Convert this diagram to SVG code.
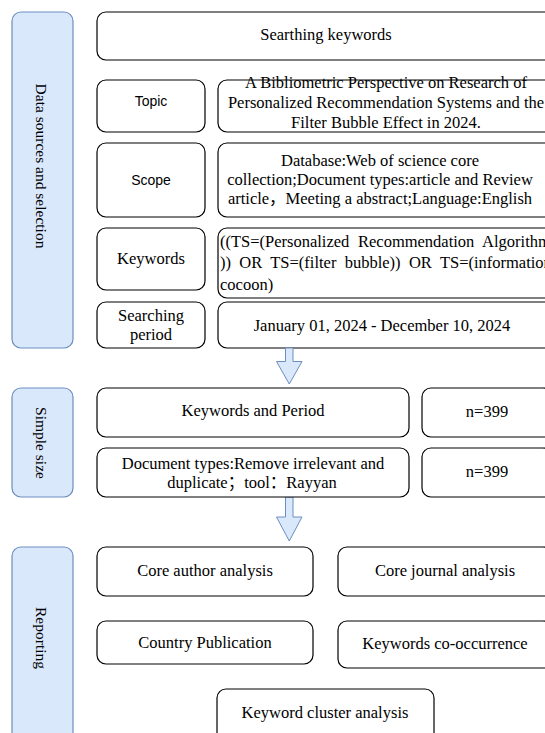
<svg xmlns="http://www.w3.org/2000/svg" width="545" height="733" viewBox="0 0 545 733">
<style>
.bar{fill:#dae8fc;stroke:#6c8ebf;stroke-width:1.2}
.box{fill:#fff;stroke:#000;stroke-width:1.2}
.arr{fill:#dae8fc;stroke:#6c8ebf;stroke-width:1}
text{font-family:"Liberation Serif","Times New Roman","Noto Sans CJK SC",serif;font-size:16.5px;fill:#000}
.c{text-anchor:middle}
.sans{font-family:"Liberation Sans",Arial,sans-serif;font-size:14px}
.side{font-size:15.5px;text-anchor:middle;dominant-baseline:central}
</style>
<rect width="545" height="733" fill="#fff"/>
<g id="side-data"><rect class="bar" x="12" y="12" width="61" height="336" rx="9"/><text class="side" transform="translate(41,166) rotate(90)">Data sources and selection</text></g>
<g id="side-simple"><rect class="bar" x="12" y="388" width="61" height="109" rx="9"/><text class="side" transform="translate(41,443) rotate(90)">Simple size</text></g>
<g id="side-report"><rect class="bar" x="12" y="547" width="61" height="200" rx="9"/><text class="side" transform="translate(41,638) rotate(90)">Reporting</text></g>

<g id="searching"><rect class="box" x="97" y="12" width="458" height="48" rx="9"/><text class="c" x="326" y="40">Searthing keywords</text></g>

<g id="topic-label"><rect class="box" x="97" y="80" width="108" height="52" rx="9"/><text class="c sans" x="151" y="106">Topic</text></g>
<g id="topic"><rect class="box" x="218" y="80" width="336" height="52" rx="9"/>
<text class="c" x="386" y="88">A Bibliometric Perspective on Research of</text>
<text class="c" x="386" y="108">Personalized Recommendation Systems and the</text>
<text class="c" x="386" y="128">Filter Bubble Effect in 2024.</text></g>

<g id="scope-label"><rect class="box" x="97" y="143" width="108" height="74" rx="9"/><text class="c sans" x="151" y="185">Scope</text></g>
<g id="scope"><rect class="box" x="218" y="143" width="336" height="74" rx="9"/>
<text class="c" x="380" y="166">Database:Web of science core</text>
<text class="c" x="380" y="185">collection;Document types:article and Review</text>
<text class="c" x="380" y="204">article，Meeting a abstract;Language:English</text></g>

<g id="keywords-label"><rect class="box" x="97" y="228" width="108" height="62" rx="9"/><text class="c" x="151" y="264">Keywords</text></g>
<g id="keywords"><rect class="box" x="218" y="228" width="336" height="70" rx="9"/>
<text x="220" y="247" word-spacing="4.5">((TS=(Personalized Recommendation Algorithm</text>
<text x="220" y="268" word-spacing="4.2">)) OR TS=(filter bubble)) OR TS=(information</text>
<text x="220" y="290">cocoon)</text></g>

<g id="period-label"><rect class="box" x="97" y="302" width="108" height="46" rx="9"/><text class="c" x="151" y="321">Searching</text><text class="c" x="151" y="340">period</text></g>
<g id="period"><rect class="box" x="218" y="302" width="336" height="46" rx="9"/><text class="c" x="382" y="331">January 01, 2024 - December 10, 2024</text></g>

<g id="connectors">
<path class="arr" d="M285.5,348 H293 V361.5 H302 L289.25,384 L276.5,361.5 H285.5 Z"/>
<path class="arr" d="M285.5,497 H293 V517 H302 L289.25,541 L276.5,517 H285.5 Z"/>
</g>

<g id="kp"><rect class="box" x="97" y="388" width="312" height="49" rx="9"/><text class="c" x="253" y="416">Keywords and Period</text></g>
<g id="n1"><rect class="box" x="422" y="388" width="130" height="49" rx="9"/><text class="c" x="487" y="417">n=399</text></g>
<g id="doc"><rect class="box" x="97" y="448" width="312" height="49" rx="9"/>
<text class="c" x="253" y="469">Document types:Remove irrelevant and</text>
<text class="c" x="252" y="488">duplicate；tool：Rayyan</text></g>
<g id="n2"><rect class="box" x="422" y="448" width="130" height="49" rx="9"/><text class="c" x="487" y="477">n=399</text></g>

<g id="author"><rect class="box" x="97" y="547" width="216" height="49" rx="9"/><text class="c" x="205" y="576">Core author analysis</text></g>
<g id="journal"><rect class="box" x="338" y="547" width="214" height="49" rx="9"/><text class="c" x="445" y="576">Core journal analysis</text></g>
<g id="country"><rect class="box" x="97" y="621" width="216" height="43" rx="9"/><text class="c" x="205" y="648">Country Publication</text></g>
<g id="cooc"><rect class="box" x="338" y="621" width="214" height="47" rx="9"/><text class="c" x="445" y="649">Keywords co-occurrence</text></g>
<g id="cluster"><rect class="box" x="217" y="689" width="217" height="60" rx="9"/><text class="c" x="325" y="718">Keyword cluster analysis</text></g>
</svg>
